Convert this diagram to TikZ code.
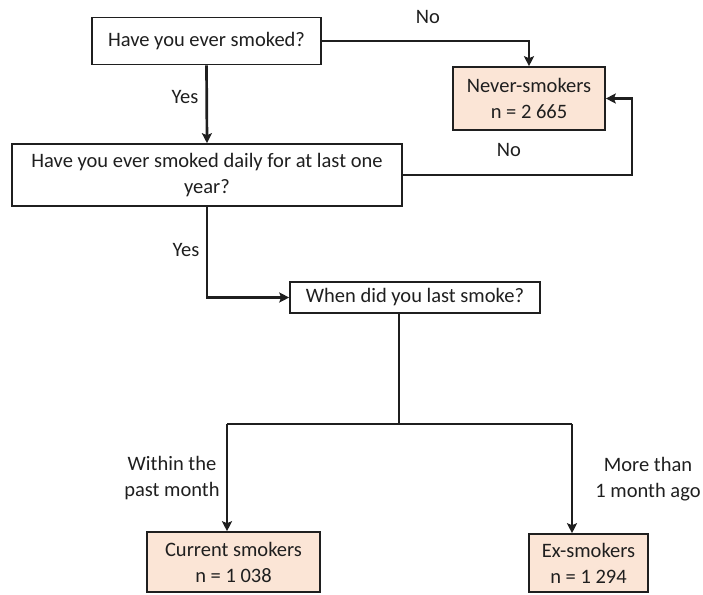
\documentclass[tikz,border=0pt]{standalone}
\usepackage{fontspec}
\setmainfont{Carlito}
\usepackage{xcolor}
\usepackage{tikz}
\usetikzlibrary{positioning,arrows.meta,calc}

\definecolor{peach}{HTML}{FBE5D6}
\definecolor{ink}{HTML}{1F1F1F}

\tikzset{
  qbox/.style={draw=ink, line width=1.6pt, fill=white, align=center, inner sep=0pt},
  resbox/.style={qbox, fill=peach},
  lbl/.style={align=center, inner sep=0pt, text=ink},
  flow/.style={draw=ink, line width=2.7pt, -{Stealth[length=10pt,width=10pt,inset=2pt]}},
  plain/.style={draw=ink, line width=2.7pt}
}

\begin{document}
\begin{tikzpicture}[x=1pt, y=-1pt, font=\fontsize{20.5}{26}\selectfont, text=ink]
  \useasboundingbox (0,0) rectangle (703,594);

  % Question boxes down the left, outcome boxes filled
  \node[qbox, minimum width=229, minimum height=47] (smoked) at (206.5,41) {Have you ever smoked?};
  \node[resbox, minimum width=152, minimum height=63] (never) at (529,98.5) {Never-smokers\\n = 2 665};
  \node[qbox, minimum width=390, minimum height=62] (daily) at (207,175) {Have you ever smoked daily for at last one\\year?};
  \node[qbox, minimum width=250, minimum height=31] (last) at (415,297.5) {When did you last smoke?};
  \node[resbox, minimum width=173, minimum height=60] (current) at (233.5,562) {Current smokers\\n = 1 038};
  \node[resbox, minimum width=119, minimum height=58] (ex) at (588.5,563) {Ex-smokers\\n = 1 294};

  % Branch labels
  \node[lbl] (noA) at (428,17) {No};
  \node[lbl] (yesA) at (185,97) {Yes};
  \node[lbl] (noB) at (509,150) {No};
  \node[lbl] (yesB) at (186,250) {Yes};
  \node[lbl] (within) at (172,478) {Within the\\past month};
  \node[lbl] (morethan) at (648,479) {More than\\1 month ago};

  % Fork points under the last question
  \coordinate (split) at (399,424);
  \coordinate (splitL) at (227,424);
  \coordinate (splitR) at (572,424);
  \coordinate (loopR) at (632,175);

  % Connectors
  \draw[flow] (smoked.east) -| (never.north);
  \draw[flow] (smoked.south) -- (daily.north);
  \draw[flow] (daily.east) -- (loopR) |- (never.east);
  \draw[flow] (daily.south) |- (last.west);
  \draw[plain] (last.south -| split) -- (split);
  \draw[plain] (splitL) -- (splitR);
  \draw[flow] (splitL) -- (splitL |- current.north);
  \draw[flow] (splitR) -- (splitR |- ex.north);
\end{tikzpicture}
\end{document}
